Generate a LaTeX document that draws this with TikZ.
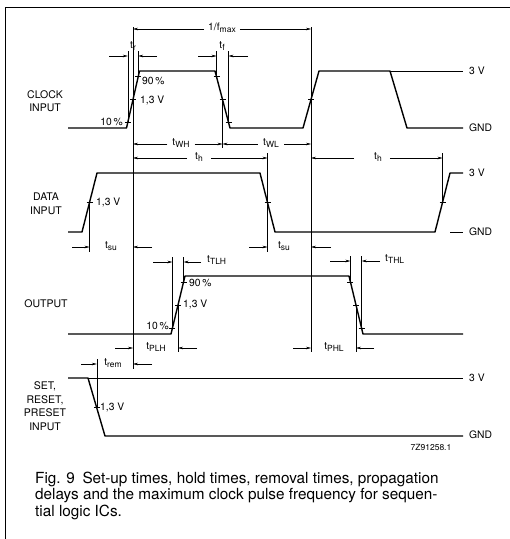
\documentclass[tikz,border=0pt]{standalone}
\usepackage{fontspec}
\setmainfont{TeX Gyre Heros}
\usetikzlibrary{arrows.meta}
\newcommand\tsub[1]{t\raisebox{-2.2pt}{\fontsize{8.5}{9}\selectfont #1}}
\begin{document}
\begin{tikzpicture}[x=1pt,y=-1pt,
  sig/.style={line width=1.4pt,line join=round},
  fine/.style={line width=0.5pt},
  dimarr/.style={line width=0.5pt,-{Stealth[length=5pt,width=2.6pt]}},
  lbl/.style={font=\fontsize{10.3}{12}\selectfont,inner sep=0pt},
  sidelbl/.style={font=\fontsize{10.5}{13.5}\selectfont,inner sep=0pt,align=center},
  captxt/.style={font=\fontsize{15.3}{17}\selectfont,inner sep=0pt,anchor=base west},
  tk/.pic={\draw[line width=0.5pt] (-3,0)--(3,0);},
]
\useasboundingbox (0,0) rectangle (510,539);
% frame
\draw[line width=0.8pt] (5,539) -- (5,7) -- (510,7);

% side labels
\node[sidelbl] (clk) at (45,101) {CLOCK\\INPUT};
\node[sidelbl] (dat) at (46,204) {DATA\\INPUT};
\node[sidelbl] (outl) at (46,304) {OUTPUT};
\node[sidelbl] (setl) at (45,406) {SET,\\RESET,\\PRESET\\INPUT};

% level labels
\foreach \yy/\tt [count=\i] in {71/3 V,128/GND,173/3 V,232/GND,378/3 V,435/GND}
  \node[lbl,anchor=west] (lev\i) at (469,\yy) {\tt};

% ---------------- CLOCK ----------------
\draw[sig] (68,128) -- (126.5,128) -- (139.5,71) -- (215,71) -- (230,128) -- (303,128) -- (319,71) -- (390,71) -- (407,128) -- (463,128);
\draw[fine] (390,71) -- (463,71);
\path (127.8,122.3) pic{tk} (133,99.5) pic{tk} (138.2,76.7) pic{tk}
      (216.5,76.7) pic{tk} (222.5,99.5) pic{tk} (228.5,122.3) pic{tk}
      (311,99.5) pic{tk};
\node[lbl,anchor=east] (c10) at (123,122) {10\,\%};
\node[lbl,anchor=west] (c13) at (140,100) {1,3 V};
\node[lbl,anchor=west] (c90) at (142,81) {90\,\%};
% main verticals
\draw[fine] (133,27) -- (133,369);
\draw[fine] (311,27) -- (311,352);
% 1/fmax
\node[lbl] (fmax) at (222,28) {1/f\raisebox{-2.2pt}{\fontsize{8.5}{9}\selectfont max}};
\draw[dimarr] (fmax.west) ++(-4,1) -- (133,29);
\draw[dimarr] (fmax.east) ++(4,1) -- (311,29);
% tr
\draw[fine] (127.8,51) -- (127.8,122.3);
\draw[fine] (138.2,51) -- (138.2,76.7);
\draw[dimarr] (109,56) -- (127.8,56);
\draw[dimarr] (157,56) -- (138.2,56);
\node[lbl] (tr) at (133,46) {\tsub{r}};
% tf
\draw[fine] (216.5,51) -- (216.5,76.7);
\draw[fine] (228.5,51) -- (228.5,122.3);
\draw[dimarr] (198,56) -- (216.5,56);
\draw[dimarr] (248,56) -- (228.5,56);
\node[lbl] (tf) at (222,46) {\tsub{f}};
% tWH / tWL
\draw[fine] (222.5,99.5) -- (222.5,148);
\node[lbl] (twh) at (181,143) {\tsub{WH}};
\draw[dimarr] (twh.west) ++(-5,1) -- (133,144);
\draw[dimarr] (twh.east) ++(5,1) -- (222.5,144);
\node[lbl] (twl) at (271,143) {\tsub{WL}};
\draw[dimarr] (twl.west) ++(-5,1) -- (222.5,144);
\draw[dimarr] (twl.east) ++(5,1) -- (311,144);
% th
\node[lbl] (th1) at (199,157) {\tsub{h}};
\draw[dimarr] (th1.west) ++(-8,1) -- (133,158);
\draw[dimarr] (th1.east) ++(8,1) -- (267.5,158);
\node[lbl] (th2) at (378,157) {\tsub{h}};
\draw[dimarr] (th2.west) ++(-20,1) -- (311,158);
\draw[dimarr] (th2.east) ++(8,1) -- (442.5,158);

% ---------------- DATA ----------------
\draw[sig] (68,232) -- (82,232) -- (97,173) -- (260,173) -- (275,232) -- (435,232) -- (450,173) -- (463,173);
\draw[fine] (450,232) -- (463,232);
\path (89.5,202.5) pic{tk} (267.5,202.5) pic{tk} (442.5,202.5) pic{tk};
\node[lbl,anchor=west] (d13) at (96,202) {1,3 V};
\draw[fine] (89.5,202.5) -- (89.5,252);
\draw[fine] (267.5,153) -- (267.5,252);
\draw[fine] (442.5,153) -- (442.5,202.5);
% tsu
\draw[dimarr] (72,247) -- (89.5,247);
\node[lbl] (tsu1) at (111,246) {\tsub{su}};
\draw[dimarr] (152,247) -- (133,247);
\draw[dimarr] (249,247) -- (267.5,247);
\node[lbl] (tsu2) at (284,246) {\tsub{su}};
\draw[dimarr] (331,247) -- (311,247);

% ---------------- OUTPUT ----------------
\draw[sig] (68,334) -- (171,334) -- (185,276) -- (349,276) -- (363,334) -- (463,334);
\path (172.4,328.2) pic{tk} (178,305) pic{tk} (183.6,281.8) pic{tk}
      (350.4,281.8) pic{tk} (356,305) pic{tk} (361.6,328.2) pic{tk};
\node[lbl,anchor=west] (o90) at (189,283) {90\,\%};
\node[lbl,anchor=west] (o13) at (183,304) {1,3 V};
\node[lbl,anchor=east] (o10) at (169,326) {10\,\%};
% tTLH
\draw[fine] (172.4,257) -- (172.4,328.2);
\draw[fine] (183.6,257) -- (183.6,281.8);
\draw[dimarr] (153,262) -- (172.4,262);
\draw[dimarr] (201,262) -- (183.6,262);
\node[lbl,anchor=west] (ttlh) at (207,260) {\tsub{TLH}};
% tTHL
\draw[fine] (350.4,256) -- (350.4,281.8);
\draw[fine] (361.6,256) -- (361.6,328.2);
\draw[dimarr] (330,261) -- (350.4,261);
\draw[dimarr] (380,261) -- (361.6,261);
\node[lbl,anchor=west] (tthl) at (385,259) {\tsub{THL}};
% tPLH
\draw[fine] (178,305) -- (178,352);
\draw[dimarr] (115,348) -- (133,348);
\node[lbl] (tplh) at (156,347) {\tsub{PLH}};
\draw[dimarr] (197,348) -- (178,348);
% tPHL
\draw[fine] (356,305) -- (356,352);
\draw[dimarr] (293,348) -- (311,348);
\node[lbl] (tphl) at (334,347) {\tsub{PHL}};
\draw[dimarr] (374,348) -- (356,348);

% ---------------- SET/RESET ----------------
\draw[sig] (68,378) -- (88,378) -- (105,436) -- (463,436);
\draw[fine] (88,378) -- (463,378);
\path (96.8,407) pic{tk};
\node[lbl,anchor=west] (s13) at (100,407) {1,3 V};
\draw[fine] (96.8,359) -- (96.8,407);
\draw[dimarr] (81,364) -- (96.8,364);
\node[lbl] (trem) at (113,363) {\tsub{rem}};
\draw[dimarr] (152,364) -- (133,364);

\node[font=\fontsize{8.5}{10}\selectfont,inner sep=0pt] (code) at (431,447) {7Z91258.1};

% caption
\node[captxt] (cap1) at (35,483) {Fig. 9\enspace Set-up times, hold times, removal times, propagation};
\node[captxt] (cap2) at (35,499.5) {delays and the maximum clock pulse frequency for sequen-};
\node[captxt] (cap3) at (35,516) {tial logic ICs.};
\end{tikzpicture}
\end{document}
